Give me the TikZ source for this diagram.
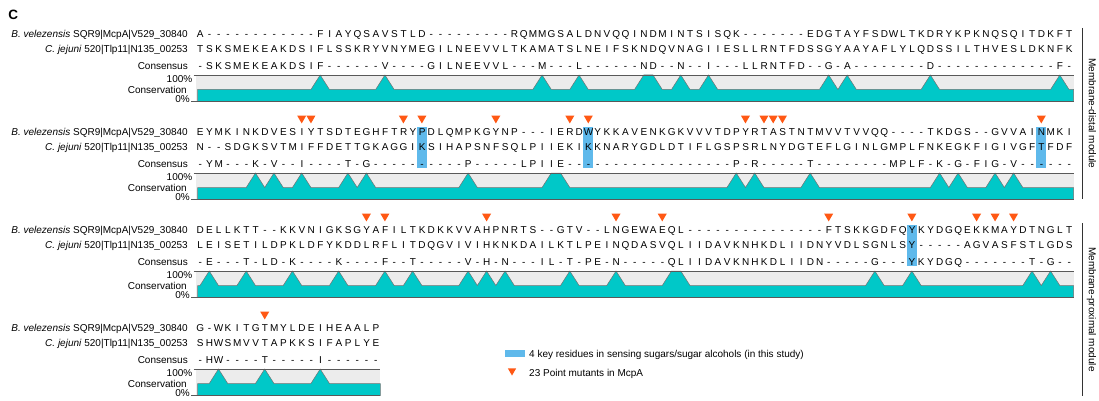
\documentclass[tikz,border=0pt]{standalone}
\usepackage{fontspec}
\setsansfont{Liberation Sans}
\usetikzlibrary{shapes.geometric, positioning}

\definecolor{keyblue}{RGB}{95,185,235}
\definecolor{mutred}{RGB}{255,88,20}
\definecolor{consteal}{RGB}{0,200,200}
\definecolor{consgray}{RGB}{236,236,236}

\newlength{\colw}\setlength{\colw}{9.245pt}
\def\seqi#1{\ifx#1\relax\else\makebox[\colw][c]{#1}\expandafter\seqi\fi}
\newcommand{\seqtxt}[1]{\seqi#1\relax}
\newcommand{\colx}[1]{200+(#1-1)*9.245}

% #1 id, #2 y of first row, #3/#4 sequences, #5 consensus, #6 columns, #7 identical runs
\newcommand{\alnblock}[7]{%
  \fill[consgray] (195.5,#2+41.5) rectangle ({\colx{#6}+4.6},#2+68);
  \filldraw[consfill] (197.5,#2+68) -- (197.5,#2+56)
    \foreach \a/\b in {#7} { -- ({\colx{\a-1}},#2+56) -- ({\colx{\a}},#2+41.5) -- ({\colx{\b}},#2+41.5) -- ({\colx{\b+1}},#2+56) }
    -- ({\colx{#6}+4.6},#2+56) -- ({\colx{#6}+4.6},#2+68) -- cycle;
  \draw[axisline] (193.5,#2+41.5) -- ({\colx{#6}+4.6},#2+41.5);
  \draw[axisline] (191,#2+68) -- ({\colx{#6}+4.6},#2+68);
  \node[seqrow] (#1v) at (195.4,#2) {\seqtxt{#3}};
  \node[seqrow, below=7.8pt of #1v] (#1j) {\seqtxt{#4}};
  \node[seqrow, below=9.8pt of #1j] (#1c) {\seqtxt{#5}};
  \node[lbl, left=7.4pt of #1v] (#1lv) {\textit{B. velezensis} SQR9|McpA|V529\_30840};
  \node[lbl, left=7.4pt of #1j] (#1lj) {\textit{C. jejuni} 520|Tlp11|N135\_00253};
  \node[lbl, left=7.4pt of #1c] (#1lc) {Consensus};
  \node[lbl] (#1top) at (192.5,#2+45.5) {100\%};
  \node[lbl] (#1mid) at (187,#2+56) {Conservation};
  \node[lbl] (#1bot) at (190,#2+65.5) {0\%};
}

\begin{document}
\begin{tikzpicture}[
        x=1pt, y=-1pt, font=\sffamily\fontsize{10}{12}\selectfont,
        txt/.style={inner sep=0pt, text height=7.2pt, text depth=0pt},
        seqrow/.style={txt, anchor=west},
        lbl/.style={txt, anchor=east},
        mutant/.style={regular polygon, regular polygon sides=3, shape border rotate=180, fill=mutred, inner sep=0pt, minimum size=10.5pt},
        keyres/.style={fill=keyblue},
        consfill/.style={fill=consteal, draw=black!55, line width=0.5pt},
        axisline/.style={draw=black!65, line width=0.6pt},
        bracket/.style={draw=black!80, line width=0.6pt}
    ]
    \useasboundingbox (0,0) rectangle (1099,401);
    \node[font=\sffamily\bfseries\fontsize{13.5}{15}\selectfont, inner sep=0pt] (panel) at (13.3,15.3) {C};

    \foreach \c/\yy in {25/131.5,43/131.5,92/131.5,78/229.5}
        \fill[keyres] ({\colx{\c}-5},\yy-4.5) rectangle ({\colx{\c}+5},\yy+36);

    \alnblock{b1}{33.5}
        {A------------FIAYQSAVSTLD---------RQMMGSALDNVQQINDMINTSISQK-------EDGTAYFSDWLTKDRYKPKNQSQITDKFT}
        {TSKSMEKEAKDSIFLSSKRYVNYMEGILNEEVVLTKAMATSLNEIFSKNDQVNAGIIESLLRNTFDSSGYAAYAFLYLQDSSILTHVESLDKNFK}
        {-SKSMEKEAKDSIF------V----GILNEEVVL---M---L------ND--N--I---LLRNTFD--G-A--------D-------------F-}
        {95}{14/14,21/21,38/38,42/42,49/50,53/53,56/56,69/69,71/71,80/80,94/94}
    \alnblock{b2}{131.5}
        {EYMKINKDVESIYTSDTEGHFTRYPDLQMPKGYNP---IERDWYKKAVENKGKVVVTDPYRTASTNTMVVTVVQQ----TKDGS--GVVAINMKI}
        {N--SDGKSVTMIFFDETTGKAGGIKSIHAPSNFSQLPIIEKIKKNARYGDLDTIFLGSPSRLNYDGTEFLGINLGMPLFNKEGKFIGIVGFTFDF}
        {-YM---K-V--I----T-G----------P-----LPIIE------------------P-R-----T--------MPLF-K-G-FIG-V------}
        {95}{7/7,9/9,12/12,17/17,19/19,30/30,39/40,59/59,61/61,67/67,81/81,83/83,87/87,89/89}
    \alnblock{b3}{229.5}
        {DELLKTT--KKVNIGKSGYAFILTKDKKVVAHPNRTS--GTV--LNGEWAEQL---------------FTSKKGDFQYKYDGQEKKMAYDTNGLT}
        {LEISETILDPKLDFYKDDLRFLITDQGVIVIHKNKDAILKTLPEINQDASVQLIIDAVKNHKDLIIDNYVDLSGNLSY-----AGVASFSTLGDS}
        {-E---T-LD-K----K----F--T-----V-H-N---IL-T-PE-N-----QLIIDAVKNHKDLIIDN-----G---YKYDGQ-------T-G--}
        {95}{2/2,6/6,11/11,16/16,21/21,24/24,30/30,32/32,34/34,41/41,46/46,52/53,74/74,78/78,91/91,93/93}
    \alnblock{b4}{327.5}
        {G-WKITGTMYLDEIHEAALP}
        {SHWSMVVTAPKKSIFAPLYE}
        {-HW----T-----I------}
        {20}{3/3,8/8,14/14}

    \foreach \c in {12,13,23,25,33,41,43,60,62,63,64,92}
        \node[mutant] (m2-\c) at ({\colx{\c}},118.2) {};
    \foreach \c in {19,21,32,46,51,69,78,85,87,89}
        \node[mutant] (m3-\c) at ({\colx{\c}},216.2) {};
    \node[mutant] (m4-8) at ({\colx{8}},314.2) {};

    \coordinate (dtop) at (1082.5,28);
    \coordinate (dbot) at (1082.5,199);
    \coordinate (ptop) at (1082.5,223);
    \coordinate (pbot) at (1082.5,396);
    \draw[bracket] (dtop) -- (dbot);
    \draw[bracket] (ptop) -- (pbot);
    \node[txt, rotate=-90] (distal) at (1092.5,113.5) {Membrane-distal module};
    \node[txt, rotate=-90] (proximal) at (1092.5,309.5) {Membrane-proximal module};

    \node[keyres, minimum width=20pt, minimum height=7pt, inner sep=0pt] (keybox) at (515,353.5) {};
    \node[txt, anchor=west] (keytxt) at (529,354) {4 key residues in sensing sugars/sugar alcohols (in this study)};
    \node[mutant, minimum size=9.5pt] (mutkey) at (512,370.8) {};
    \node[txt, anchor=west] (muttxt) at (529,372.5) {23 Point mutants in McpA};
\end{tikzpicture}
\end{document}
